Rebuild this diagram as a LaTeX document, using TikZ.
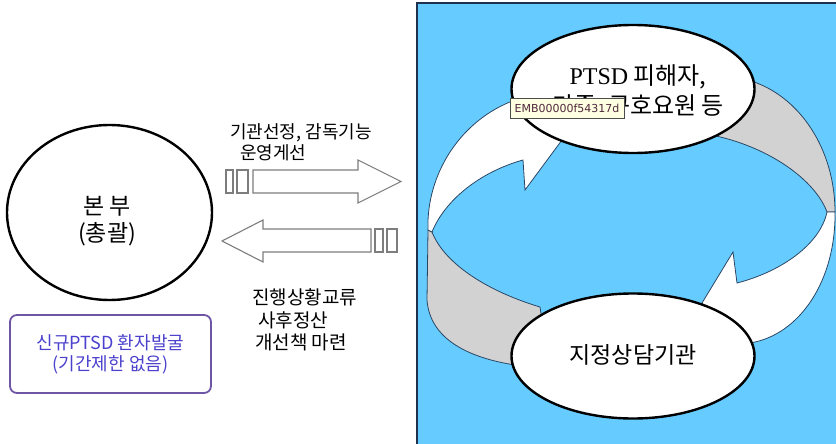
\documentclass[tikz,border=0pt]{standalone}
\usepackage{fontspec}
\setmainfont{Noto Sans CJK KR}
\newfontfamily\serifpt{Liberation Serif}
\newfontfamily\tipfont{DejaVu Sans}
\usetikzlibrary{shapes.geometric}
\definecolor{panelblue}{RGB}{102,204,255}
\definecolor{panelline}{RGB}{30,50,80}
\definecolor{ribbonline}{RGB}{40,70,100}
\definecolor{ribbongray}{RGB}{210,210,210}
\definecolor{arrowgray}{RGB}{125,125,125}
\definecolor{boxpurple}{RGB}{110,85,165}
\definecolor{boxtext}{RGB}{75,65,205}
\definecolor{tipfill}{RGB}{255,255,225}
\definecolor{tiptext}{RGB}{80,40,60}
\begin{document}
\begin{tikzpicture}[x=1pt,y=-1pt,
  bigell/.style={ellipse, draw=black, line width=2.4pt, fill=white, inner sep=0pt},
  blockarrow/.style={draw=arrowgray, line width=1.1pt, fill=white, line join=miter},
  ribbon/.style={draw=ribbonline, line width=0.8pt, line join=miter},
  lbl/.style={font=\fontsize{18}{22}\selectfont, inner sep=0pt, anchor=west},
  lblb/.style={font=\fontsize{19}{22}\selectfont, inner sep=0pt, anchor=west},
]
\useasboundingbox (0,0) rectangle (836,444);
\fill[white] (0,0) rectangle (836,444);
% right panel
\fill[panelblue] (417,3) rectangle (836,444);
\draw[panelline, line width=1.3pt] (417,444) -- (417,3) -- (836,3);

% ribbons
\path[ribbon, fill=ribbongray] (428,230) -- (427,300) .. controls (430,340) and (470,358) .. (515,365) -- (545,340) -- (540,307) .. controls (490,292) and (445,265) .. (432,232) -- cycle;
\path[ribbon, fill=white] (428,230) .. controls (426,175) and (460,120) .. (515,100) -- (545,100) -- (562,140) -- (525,190) -- (523,160) .. controls (480,172) and (445,200) .. (432,232) -- cycle;
\path[ribbon, fill=ribbongray] (748,80) .. controls (800,95) and (835,150) .. (835,212) -- (827,212) .. controls (815,180) and (770,148) .. (716,136) -- (720,100) -- cycle;
\path[ribbon, fill=white] (835,212) .. controls (836,280) and (800,335) .. (750,343) -- (720,330) -- (702,303) -- (733,252) -- (737,283) .. controls (780,272) and (820,245) .. (827,212) -- cycle;

% ellipses
\node[bigell, minimum width=243, minimum height=128] (top) at (633,89) {};
\node[bigell, minimum width=243, minimum height=125] (bot) at (633,356) {};
\node[bigell, minimum width=205, minimum height=175] (hq) at (109.5,212.5) {};

\node[font=\fontsize{24}{30}\selectfont, align=center, inner sep=0pt] (toptext) at (638,92) {{\serifpt PTSD} 피해자,\\가족, 구호요원 등};
\node[font=\fontsize{23}{27}\selectfont, inner sep=0pt] (bottext) at (633,355) {지정상담기관};
\node[font=\fontsize{23}{27}\selectfont, align=center, inner sep=0pt] (hqtext) at (107,221) {본 부\\(총괄)};

% tooltip
\node[draw=black!70, fill=tipfill, line width=0.6pt, font=\tipfont\fontsize{11}{13}\selectfont, text=tiptext, inner sep=1pt, minimum width=114, minimum height=20] (tip) at (567,108) {EMB00000f54317d};

% purple box
\node[draw=boxpurple, line width=1.8pt, rounded corners=7pt, fill=white, minimum width=201, minimum height=78, text=boxtext, align=center, font=\fontsize{18}{21}\selectfont, inner sep=0pt] (newbox) at (110.5,354) {신규PTSD 환자발굴\\(기간제한 없음)};

% block arrows
\draw[blockarrow] (226,170) rectangle (233,193);
\draw[blockarrow] (237,170) rectangle (248,193);
\draw[blockarrow] (253,170) -- (358,170) -- (358,160) -- (401,181.5) -- (358,203) -- (358,193) -- (253,193) -- cycle;
\draw[blockarrow] (371,229) -- (263,229) -- (263,220) -- (222,241) -- (263,262) -- (263,252) -- (371,252) -- cycle;
\draw[blockarrow] (375,229) rectangle (383,252);
\draw[blockarrow] (387,229) rectangle (397,252);

% labels
\node[lbl] (t1) at (230,133) {기관선정, 감독기능};
\node[lbl] (t2) at (240,153) {운영게선};
\node[lblb] (t3) at (252,297) {진행상황교류};
\node[lblb] (t4) at (258,320) {사후정산};
\node[lblb] (t5) at (255,342) {개선책 마련};
\end{tikzpicture}
\end{document}
